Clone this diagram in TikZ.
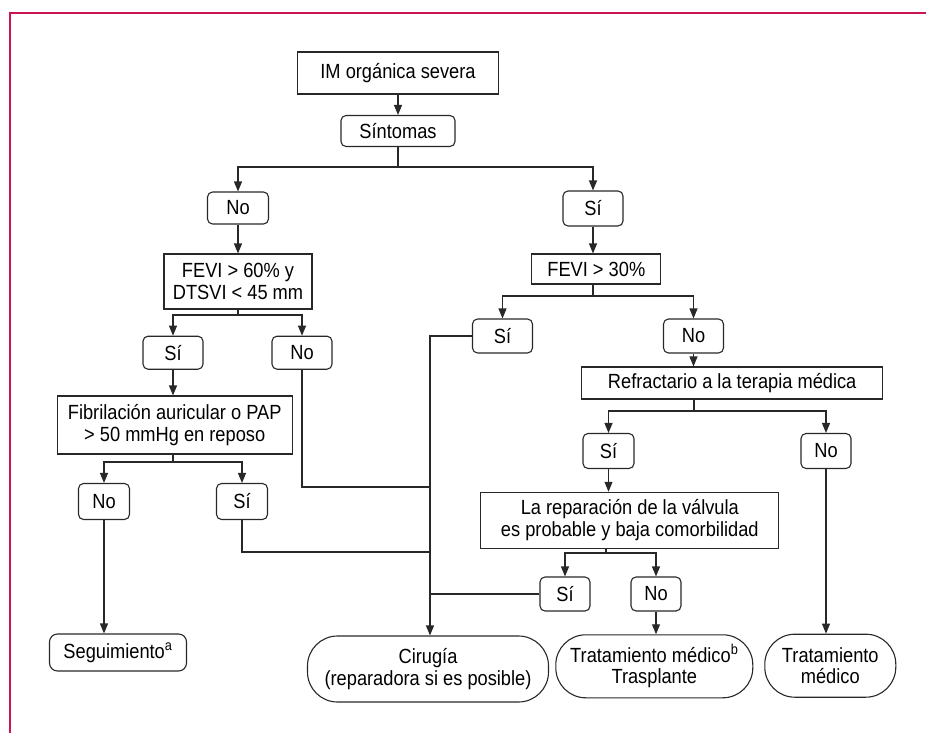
\documentclass[tikz,border=0pt]{standalone}
\usepackage{fontspec}
\setmainfont[FakeStretch=0.89]{Liberation Sans}
\usetikzlibrary{arrows.meta,positioning}
\definecolor{marco}{RGB}{204,20,80}
\definecolor{trazo}{RGB}{40,40,40}

\begin{document}
\begin{tikzpicture}[x=1pt, y=-1pt, line width=1.1pt, draw=trazo,
    font=\fontsize{20.5}{21.5}\selectfont,
    every node/.style={draw=trazo, line width=1.1pt, inner sep=0pt, align=center},
    pregunta/.style={rectangle},
    resp/.style={rounded corners=5pt, minimum width=60pt, minimum height=34pt},
    final/.style={rounded corners=30pt},
    flecha/.style={-{Triangle[length=10pt,width=8pt]}}]

    \useasboundingbox (0,0) rectangle (926,733);
    \draw[marco, line width=2pt] (9.5,733) -- (9.5,13) -- (926,13);

    % cabecera
    \node[pregunta, minimum width=201pt, minimum height=42pt] (im) at (398,73) {IM orgánica severa};
    \node[resp, minimum width=114pt, minimum height=31pt] (sint) at (398,131) {Síntomas};
    \node[resp, minimum width=61pt, minimum height=32pt] (no1) at (238,208) {No};
    \node[resp, minimum height=35pt] (si1) at (593,208.5) {Sí};

    % rama izquierda
    \node[pregunta, minimum width=148pt, minimum height=55pt] (fevi60) at (238,281.5)
        {FEVI > 60\% y\\DTSVI < 45 mm};
    \node[resp, minimum height=33pt] (si2) at (173,352.7) {Sí};
    \node[resp, minimum height=33pt] (no2) at (302,352.7) {No};
    \node[pregunta, minimum width=235pt, minimum height=58pt] (fib) at (174.7,425)
        {Fibrilación auricular o PAP\\> 50 mmHg en reposo};
    \node[resp, minimum width=51pt, minimum height=36pt] (no3) at (104,501.5) {No};
    \node[resp, minimum width=51pt, minimum height=36pt] (si3) at (242,501.5) {Sí};
    \node[rounded corners=8pt, minimum width=137pt, minimum height=37pt] (seg) at (118,652.5)
        {Seguimiento\textsuperscript{a}};

    % rama derecha
    \node[pregunta, minimum width=129pt, minimum height=30pt] (fevi30) at (596.3,269) {FEVI > 30\%};
    \node[resp] (si4) at (502.5,336) {Sí};
    \node[resp] (no4) at (693.5,336) {No};
    \node[pregunta, minimum width=301pt, minimum height=32pt] (refr) at (732.2,383)
        {Refractario a la terapia médica};
    \node[resp, minimum width=51pt, minimum height=35pt] (si5) at (608.5,451) {Sí};
    \node[resp, minimum width=50pt, minimum height=35pt] (no5) at (826,451) {No};
    \node[pregunta, minimum width=298pt, minimum height=56pt] (valve) at (629.8,520.3)
        {La reparación de la válvula\\es probable y baja comorbilidad};
    \node[resp, minimum width=50pt] (si6) at (565,594) {Sí};
    \node[resp, minimum width=50pt] (no6) at (656,594) {No};

    % resultados
    \node[final, minimum width=241pt, minimum height=66pt] (cir) at (428,669)
        {Cirugía\\(reparadora si es posible)};
    \node[final, minimum width=197pt, minimum height=63pt] (trb) at (654.3,666.3)
        {Tratamiento médico\textsuperscript{b}\\Trasplante};
    \node[final, minimum width=131pt, minimum height=63pt] (trm) at (830.3,665.7)
        {Tratamiento\\médico};

    % puntos de bifurcacion
    \coordinate (b1) at (398,167);
    \coordinate (b2) at (238,315);
    \coordinate (b3) at (173,462);
    \coordinate (b4) at (593,296);
    \coordinate (b5) at (694,411);
    \coordinate (b6) at (606,553);
    % linea colectora hacia cirugia
    \coordinate (j0) at (430,336);
    \coordinate (j1) at (430,487);
    \coordinate (j2) at (430,552);
    \coordinate (j3) at (430,594);

    \draw[flecha] (im) -- (sint);
    \draw (sint) -- (b1);
    \draw[flecha] (b1) -| (no1);
    \draw[flecha] (b1) -| (si1);

    \draw[flecha] (no1) -- (fevi60);
    \draw (fevi60) -- (b2);
    \draw[flecha] (b2) -| (si2);
    \draw[flecha] (b2) -| (no2);
    \draw[flecha] (si2) -- (si2 |- fib.north);
    \draw (b3 |- fib.south) -- (b3);
    \draw[flecha] (b3) -| (no3);
    \draw[flecha] (b3) -| (si3);
    \draw[flecha] (no3) -- (no3 |- seg.north);

    \draw (no2) |- (j1);
    \draw (si3) |- (j2);
    \draw[flecha] (si4) -- (j0) -- (j0 |- cir.north);
    \draw (si6) -- (j3);

    \draw[flecha] (si1) -- (si1 |- fevi30.north);
    \draw (b4 |- fevi30.south) -- (b4);
    \draw[flecha] (b4) -| (si4);
    \draw[flecha] (b4) -| (no4);
    \draw[flecha] (no4) -- (no4 |- refr.north);
    \draw (b5 |- refr.south) -- (b5);
    \draw[flecha] (b5) -| (si5);
    \draw[flecha] (b5) -| (no5);
    \draw[flecha] (si5) -- (si5 |- valve.north);
    \draw (b6 |- valve.south) -- (b6);
    \draw[flecha] (b6) -| (si6);
    \draw[flecha] (b6) -| (no6);
    \draw[flecha] (no6) -- (no6 |- trb.north);
    \draw[flecha] (no5) -- (no5 |- trm.north);
\end{tikzpicture}
\end{document}
